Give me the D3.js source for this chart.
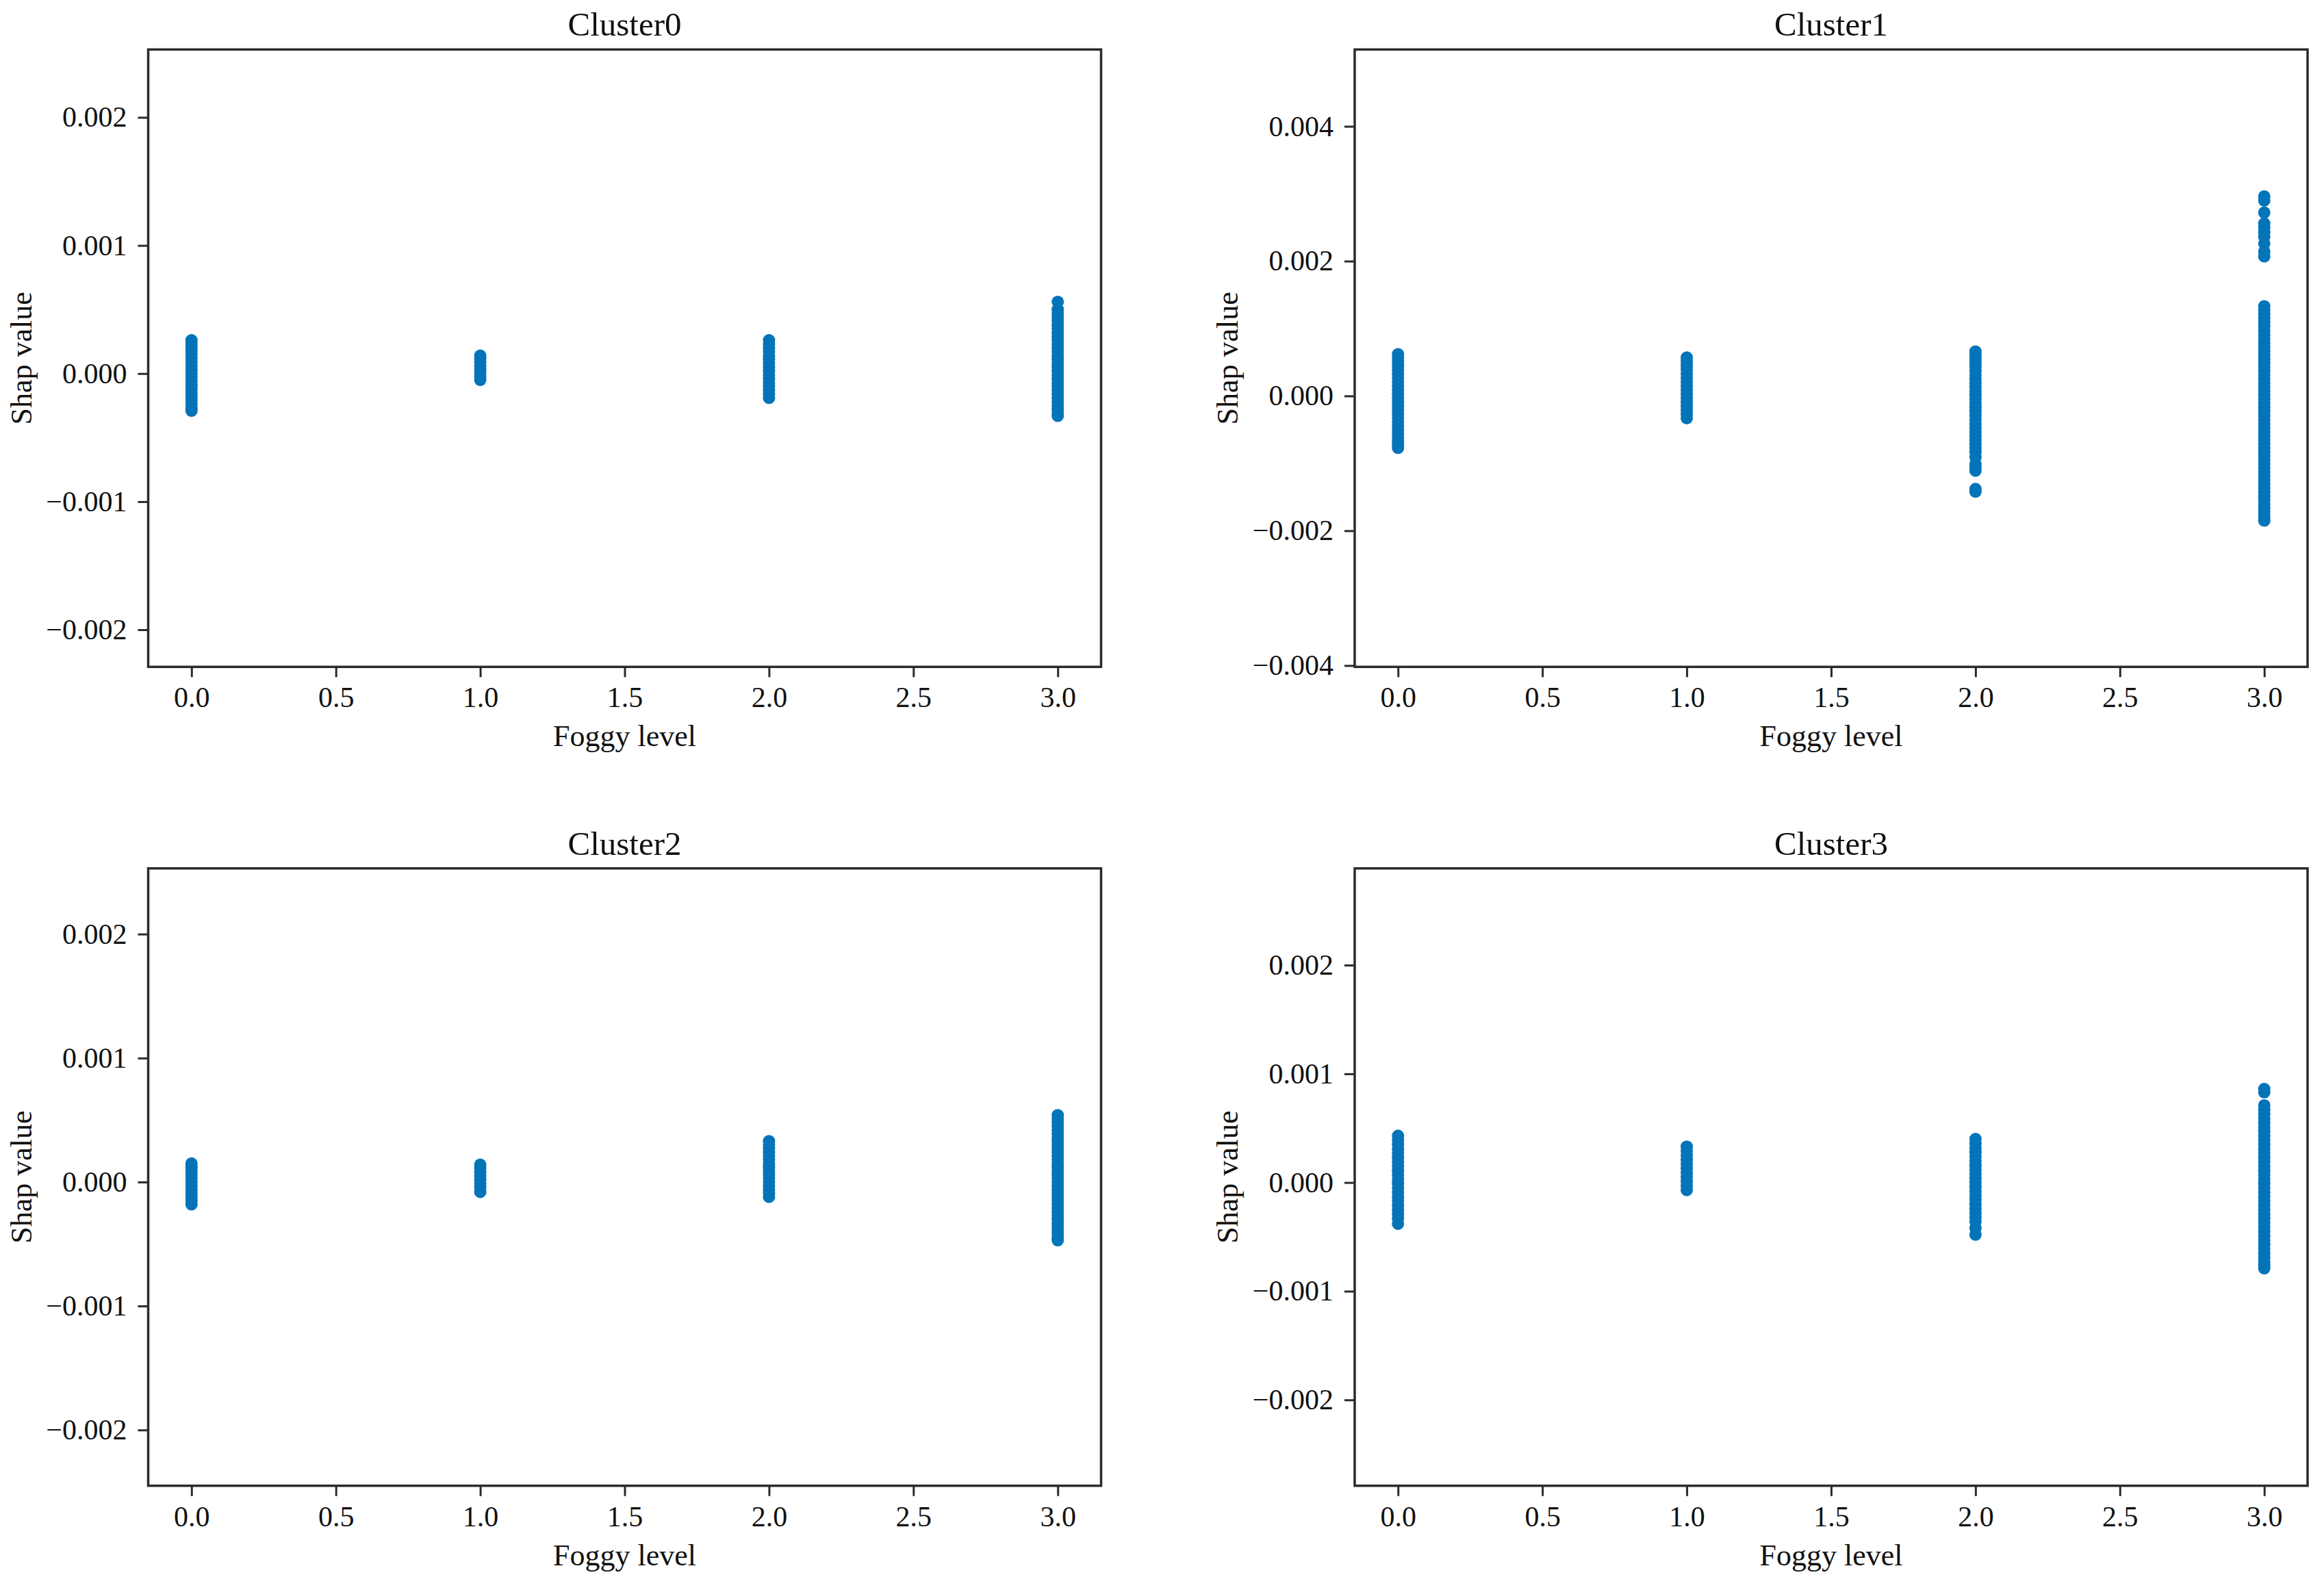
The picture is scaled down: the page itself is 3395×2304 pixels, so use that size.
<!DOCTYPE html>
<html>
<head>
<meta charset="utf-8">
<script src="https://cdn.jsdelivr.net/npm/d3@7"></script>
<style>
  html, body { margin: 0; padding: 0; background: #fff; }
  text { font-family: "Liberation Serif", "Times New Roman", serif; fill: #111; }
</style>
</head>
<body>
<div id="wrapper"></div>
<script>
/* DATA */
const foggyLevels = [0, 1, 2, 3];
const clusterNames = ["Cluster0", "Cluster1", "Cluster2", "Cluster3"];

// shap values for each foggy level (index = level)
const cluster0Shap = [
  [0.00026, 0.00024, 0.00021, 0.00018, 0.00015, 0.00012, 0.00009, 0.00006, 0.00003, 0.0, -0.00003, -0.00006, -0.00009, -0.00012, -0.00015, -0.00018, -0.00021, -0.00024, -0.00027, -0.00029],
  [0.00014, 0.00012, 0.00009, 0.00006, 0.00003, 0.00001, -0.00002, -0.00005],
  [0.00026, 0.00023, 0.0002, 0.00017, 0.00014, 0.00011, 0.00008, 0.00005, 0.00002, -0.00001, -0.00004, -0.00007, -0.0001, -0.00013, -0.00016, -0.00019],
  [0.00056, 0.0005, 0.00047, 0.00044, 0.00041, 0.00038, 0.00035, 0.00032, 0.00029, 0.00026, 0.00023, 0.0002, 0.00017, 0.00014, 0.00011, 0.00008, 0.00005, 0.00002, -0.00001, -0.00004, -0.00007, -0.0001, -0.00013, -0.00016, -0.00019, -0.00022, -0.00025, -0.00028, -0.00031, -0.00033],
];
const cluster1Shap = [
  [0.00062, 0.00057, 0.00051, 0.00045, 0.00039, 0.00033, 0.00027, 0.00021, 0.00015, 0.00009, 0.00003, -0.00003, -0.00009, -0.00015, -0.00021, -0.00027, -0.00033, -0.00039, -0.00045, -0.00051, -0.00057, -0.00063, -0.00068, -0.00073, -0.00077],
  [0.00057, 0.00051, 0.00045, 0.00039, 0.00033, 0.00027, 0.00021, 0.00015, 0.00009, 0.00003, -0.00003, -0.00009, -0.00015, -0.00021, -0.00027, -0.00033],
  [0.00066, 0.00061, 0.00055, 0.00049, 0.00043, 0.00037, 0.00031, 0.00025, 0.00019, 0.00013, 0.00007, 0.00001, -0.00005, -0.00011, -0.00017, -0.00023, -0.00029, -0.00035, -0.00041, -0.00047, -0.00053, -0.00059, -0.00065, -0.00071, -0.00077, -0.00083, -0.00091, -0.00101, -0.00106, -0.00111, -0.00138, -0.00142],
  [0.00296, 0.0029, 0.00272, 0.00256, 0.0025, 0.00243, 0.00236, 0.00226, 0.00214, 0.00207,
   0.00133, 0.00127, 0.00121, 0.00115, 0.00109, 0.00103, 0.00097, 0.00091, 0.00085, 0.00079, 0.00073, 0.00067, 0.00061, 0.00055, 0.00049, 0.00043, 0.00037, 0.00031, 0.00025, 0.00019, 0.00013, 0.00007, 0.00001,
   -0.00005, -0.00011, -0.00017, -0.00023, -0.00029, -0.00035, -0.00041, -0.00047, -0.00053, -0.00059, -0.00065, -0.00071, -0.00077, -0.00083, -0.00089, -0.00095, -0.00101, -0.00107, -0.00113, -0.00119, -0.00125, -0.00131, -0.00137, -0.00143, -0.00149, -0.00155, -0.00161, -0.00166, -0.00171, -0.00176, -0.00181, -0.00185],
];
const cluster2Shap = [
  [0.00015, 0.00012, 0.00009, 0.00006, 0.00003, 0.0, -0.00003, -0.00006, -0.00009, -0.00012, -0.00015, -0.00018],
  [0.00014, 0.00011, 0.00008, 0.00005, 0.00002, -0.00001, -0.00004, -0.00008],
  [0.00033, 0.0003, 0.00027, 0.00024, 0.00021, 0.00018, 0.00015, 0.00012, 0.00009, 0.00006, 0.00003, 0.0, -0.00003, -0.00006, -0.00009, -0.00012],
  [0.00054, 0.00051, 0.00048, 0.00045, 0.00042, 0.00039, 0.00036, 0.00033, 0.0003, 0.00027, 0.00024, 0.00021, 0.00018, 0.00015, 0.00012, 0.00009, 0.00006, 0.00003, 0.0, -0.00003, -0.00006, -0.00009, -0.00012, -0.00015, -0.00018, -0.00021, -0.00024, -0.00027, -0.0003, -0.00033, -0.00036, -0.00039, -0.00042, -0.00045, -0.00047],
];
const cluster3Shap = [
  [0.00043, 0.00039, 0.00035, 0.00031, 0.00027, 0.00023, 0.00019, 0.00015, 0.00011, 0.00007, 0.00003, -0.00001, -0.00005, -0.00009, -0.00013, -0.00017, -0.00021, -0.00025, -0.00029, -0.00033, -0.00038],
  [0.00033, 0.00029, 0.00025, 0.00021, 0.00017, 0.00013, 0.00009, 0.00005, 0.00001, -0.00003, -0.00007],
  [0.0004, 0.00036, 0.00032, 0.00028, 0.00024, 0.0002, 0.00016, 0.00012, 0.00008, 0.00004, 0.0, -0.00004, -0.00008, -0.00012, -0.00016, -0.0002, -0.00024, -0.00028, -0.00032, -0.00036, -0.00042, -0.00048],
  [0.00086, 0.00083, 0.00071, 0.00067, 0.00063, 0.00059, 0.00055, 0.00051, 0.00047, 0.00043, 0.00039, 0.00035, 0.00031, 0.00027, 0.00023, 0.00019, 0.00015, 0.00011, 0.00007, 0.00003,
   -0.00001, -0.00005, -0.00009, -0.00013, -0.00017, -0.00021, -0.00025, -0.00029, -0.00033, -0.00037, -0.00041, -0.00045, -0.00049, -0.00053, -0.00057, -0.00061, -0.00065, -0.00069, -0.00073, -0.00076, -0.00079],
];

// axis ranges and ticks as they appear in each panel
const xTicks = [0, 0.5, 1, 1.5, 2, 2.5, 3];
const xLimits = [-0.15, 3.15];
const yLimits = [
  [-0.00229, 0.00253],
  [-0.00402, 0.00514],
  [-0.00245, 0.00253],
  [-0.00279, 0.00289],
];
const yTicks = [
  [-0.002, -0.001, 0, 0.001, 0.002],
  [-0.004, -0.002, 0, 0.002, 0.004],
  [-0.002, -0.001, 0, 0.001, 0.002],
  [-0.002, -0.001, 0, 0.001, 0.002],
];

const allShap = [cluster0Shap, cluster1Shap, cluster2Shap, cluster3Shap];

/* DIMENSIONS */
const width = 3395;
const height = 2304;
const panelWidth = 1392;
const panelHeight = 902;
const colLeft = [216.5, 1979];
const rowTop = [72.3, 1268.7];
const pointColor = "#0474b9";
const axisColor = "#2b2b2b";

const svg = d3.select("#wrapper")
  .append("svg")
  .attr("width", width)
  .attr("height", height)
  .style("display", "block");

svg.append("rect")
  .attr("width", width)
  .attr("height", height)
  .attr("fill", "#fff");

clusterNames.forEach((name, i) => {
  const left = colLeft[i % 2];
  const top = rowTop[Math.floor(i / 2)];

  const xScale = d3.scaleLinear().domain(xLimits).range([0, panelWidth]);
  const yScale = d3.scaleLinear().domain(yLimits[i]).range([panelHeight, 0]);

  const g = svg.append("g").attr("transform", `translate(${left}, ${top})`);

  // points
  const points = [];
  allShap[i].forEach((vals, li) => {
    vals.forEach((v) => points.push({ level: foggyLevels[li], value: v }));
  });

  g.append("g")
    .selectAll("circle")
    .data(points)
    .join("circle")
    .attr("cx", (d) => xScale(d.level))
    .attr("cy", (d) => yScale(d.value))
    .attr("r", 9)
    .attr("fill", pointColor);

  // axes
  const yAxis = d3.axisLeft(yScale)
    .tickValues(yTicks[i])
    .tickFormat(d3.format(".3f"))
    .tickSize(15)
    .tickSizeOuter(0)
    .tickPadding(16);

  const xAxis = d3.axisBottom(xScale)
    .tickValues(xTicks)
    .tickFormat(d3.format(".1f"))
    .tickSize(15)
    .tickSizeOuter(0)
    .tickPadding(14);

  const yg = g.append("g").call(yAxis);
  const xg = g.append("g").attr("transform", `translate(0, ${panelHeight})`).call(xAxis);

  [yg, xg].forEach((ax) => {
    ax.select(".domain").remove();
    ax.selectAll(".tick line").attr("stroke", axisColor).attr("stroke-width", 3);
    ax.selectAll(".tick text")
      .style("font-family", '"Liberation Serif", "Times New Roman", serif')
      .style("font-size", "42px")
      .attr("fill", "#111");
  });

  // frame
  g.append("rect")
    .attr("width", panelWidth)
    .attr("height", panelHeight)
    .attr("fill", "none")
    .attr("stroke", axisColor)
    .attr("stroke-width", 3.5);

  // title
  g.append("text")
    .attr("x", panelWidth / 2)
    .attr("y", -20)
    .attr("text-anchor", "middle")
    .style("font-size", "49px")
    .text(name);

  // x label
  g.append("text")
    .attr("x", panelWidth / 2)
    .attr("y", panelHeight + 116)
    .attr("text-anchor", "middle")
    .style("font-size", "44px")
    .text("Foggy level");

  // y label
  g.append("text")
    .attr("transform", `translate(-171, ${panelHeight / 2}) rotate(-90)`)
    .attr("text-anchor", "middle")
    .style("font-size", "44px")
    .text("Shap value");
});
</script>
</body>
</html>
